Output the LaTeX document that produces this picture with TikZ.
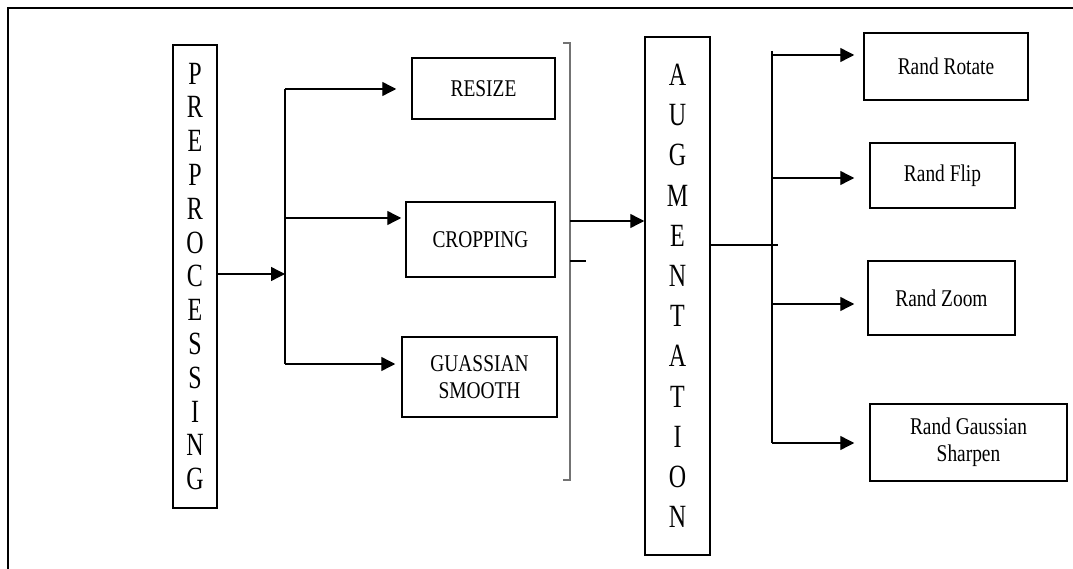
\documentclass[tikz,border=0pt]{standalone}
\usepackage{fontspec}
\setmainfont{Liberation Serif}
\usepackage{graphicx}
\usetikzlibrary{arrows.meta}
\newcommand{\vl}[1]{\scalebox{1}[1.35]{#1}}
\newcommand{\bx}[1]{\scalebox{0.97}[1.2]{#1}}
\begin{document}
\begin{tikzpicture}[x=1pt,y=-1pt,
  box/.style={draw, line width=1.5pt, inner sep=0pt, align=center, font=\fontsize{20}{27}\selectfont},
  vbox/.style={box, font=\fontsize{24}{#1}\selectfont},
  arr/.style={line width=1.4pt, -{Triangle[length=14pt,width=14pt]}},
  ln/.style={line width=1.4pt},
  brk/.style={draw=black!55, line width=1.8pt}]
\useasboundingbox (0,0) rectangle (1073,569);
\draw[line width=2pt] (8,569) -- (8,8) -- (1073,8);

% nodes
\node[vbox=33.8, minimum width=44pt, minimum height=463pt] (pre) at (195,276.5)
  {\vl{P}\\\vl{R}\\\vl{E}\\\vl{P}\\\vl{R}\\\vl{O}\\\vl{C}\\\vl{E}\\\vl{S}\\\vl{S}\\\vl{I}\\\vl{N}\\\vl{G}};
\node[box, minimum width=143pt, minimum height=61pt] (resize) at (483.5,88.5) {\bx{RESIZE}};
\node[box, minimum width=149pt, minimum height=75pt] (crop) at (480.5,239.5) {\bx{CROPPING}};
\node[box, minimum width=155pt, minimum height=80pt] (gauss) at (479.5,377) {\bx{GUASSIAN}\\\bx{SMOOTH}};
\node[vbox=40.2, minimum width=65pt, minimum height=518pt] (aug) at (677.5,296)
  {\vl{A}\\\vl{U}\\\vl{G}\\\vl{M}\\\vl{E}\\\vl{N}\\\vl{T}\\\vl{A}\\\vl{T}\\\vl{I}\\\vl{O}\\\vl{N}};
\node[box, minimum width=164pt, minimum height=67pt] (rot) at (946,66.5) {\bx{Rand Rotate}};
\node[box, minimum width=145pt, minimum height=65pt] (flip) at (942.5,175.5) {\bx{Rand Flip}};
\node[box, minimum width=147pt, minimum height=74pt] (zoom) at (941.5,298) {\bx{Rand Zoom}};
\node[box, minimum width=197pt, minimum height=77pt] (sharp) at (968.5,442.5) {\bx{Rand Gaussian}\\\bx{Sharpen}};

% first bus
\coordinate (b1t) at (285,89);
\coordinate (b1m) at (285,274);
\coordinate (b1c) at (285,218);
\coordinate (b1b) at (285,364);
\draw[ln] (b1t) -- (b1b);
\draw[arr] (pre.east |- b1m) -- (b1m);
\draw[arr, shorten >=15pt] (b1t) -- (b1t -| resize.west);
\draw[arr, shorten >=4pt] (b1c) -- (b1c -| crop.west);
\draw[arr, shorten >=6pt] (b1b) -- (b1b -| gauss.west);

% bracket
\coordinate (brt) at (570,43);
\coordinate (brb) at (570,480);
\coordinate (brm) at (570,221);
\coordinate (brk2) at (570,261);
\draw[brk] ([xshift=-7pt]brt) -- (brt) -- (brb) -- ([xshift=-7pt]brb);
\draw[ln] (brk2) -- ([xshift=16pt]brk2);
\draw[arr] (brm) -- (brm -| aug.west);

% second bus
\coordinate (b2t) at (772,51);
\coordinate (b2m) at (772,245);
\coordinate (b2x) at (778,245);
\coordinate (b2r) at (772,55);
\coordinate (b2f) at (772,178);
\coordinate (b2z) at (772,304);
\coordinate (b2s) at (772,443);
\draw[ln] (b2t) -- (b2s);
\draw[ln] (aug.east |- b2m) -- (b2x);
\draw[arr, shorten >=9pt] (b2r) -- (b2r -| rot.west);
\draw[arr, shorten >=15pt] (b2f) -- (b2f -| flip.west);
\draw[arr, shorten >=13pt] (b2z) -- (b2z -| zoom.west);
\draw[arr, shorten >=15pt] (b2s) -- (b2s -| sharp.west);
\end{tikzpicture}
\end{document}
